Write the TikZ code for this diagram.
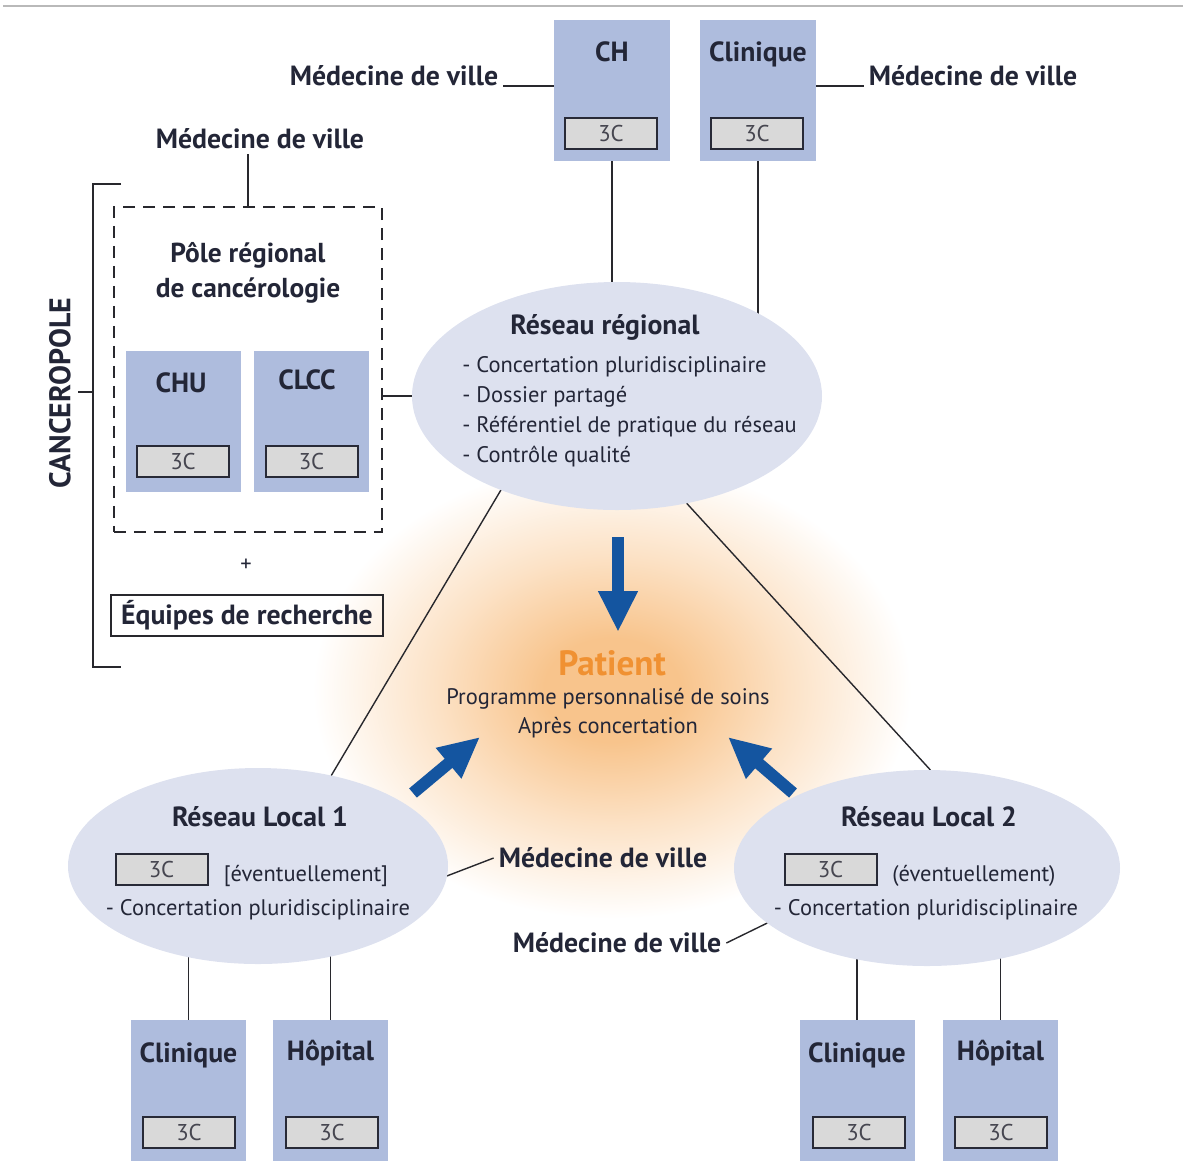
\documentclass[tikz,border=0pt]{standalone}
\usepackage{fontspec}
\setmainfont{PT Sans}
\usetikzlibrary{arrows.meta,shapes.geometric}
\pgfdeclarelayer{bg}
\pgfsetlayers{bg,main}
\newdimen\pxu
\pxu=0.02cm
\definecolor{boxfill}{RGB}{174,188,221}
\definecolor{ellfill}{RGB}{221,225,239}
\definecolor{ccfill}{RGB}{217,217,217}
\definecolor{ccdraw}{RGB}{40,42,55}
\definecolor{cctext}{RGB}{70,70,80}
\definecolor{ink}{RGB}{35,38,55}
\definecolor{linec}{RGB}{40,40,45}
\definecolor{arrowblue}{RGB}{20,85,160}
\definecolor{orangeT}{RGB}{240,145,50}
\definecolor{glowA}{RGB}{248,196,140}
\definecolor{glowB}{RGB}{252,226,198}
\pgfdeclareradialshading{glowshade}{\pgfpointorigin}{color(0bp)=(glowA); color(5bp)=(glowA); color(13bp)=(glowB); color(22bp)=(white); color(50bp)=(white)}
\tikzset{
 inst/.style={fill=boxfill, minimum width=116\pxu, minimum height=141\pxu, inner sep=0pt, outer sep=0pt},
 cc/.style={fill=ccfill, draw=ccdraw, line width=2\pxu, minimum width=92\pxu, minimum height=31\pxu, inner sep=0pt, font=\fontsize{13}{14}\selectfont, text=cctext},
 ttl/.style={font=\bfseries\fontsize{15.8}{18}\selectfont, text=ink, inner sep=0pt},
 lbl/.style={font=\bfseries\fontsize{15.8}{18}\selectfont, text=ink, inner sep=0pt, outer sep=3pt},
 body/.style={font=\fontsize{12.8}{17}\selectfont, text=ink, inner sep=0pt},
 net/.style={ellipse, fill=ellfill, inner sep=0pt, outer sep=0pt},
 conn/.style={draw=linec, line width=1.4\pxu},
 bigarrow/.style={draw=arrowblue, line width=12\pxu, -{Triangle[width=0.74cm,length=0.82cm]}},
}
\begin{document}
\begin{tikzpicture}[x=0.02cm,y=-0.02cm]
\useasboundingbox (0,0) rectangle (1183,1171);
\draw[gray!55, line width=2\pxu] (3,6) -- (1183,6);

% top boxes
\node[inst] (CH) at (612,90) {};
\node[ttl] (tCH) at (612,52) {CH};
\node[cc] (cCH) at (611,133) {3C};
\node[inst] (CLt) at (758,90) {};
\node[ttl] (tCLt) at (758,54) {Clinique};
\node[cc] (cCLt) at (757,133) {3C};
\node[lbl] (mvA) at (394,76) {Médecine de ville};
\node[lbl] (mvB) at (973,76) {Médecine de ville};

% regional network
\node[net, minimum width=410\pxu, minimum height=228\pxu] (RR) at (617,396) {};
\node[ttl] (tRR) at (605,327) {Réseau régional};
\node[body, align=left, anchor=west] (iRR) at (462,412) {- Concertation pluridisciplinaire\\- Dossier partagé\\- Référentiel de pratique du réseau\\- Contrôle qualité};

% pole
\node[lbl] (mvC) at (260,139) {Médecine de ville};
\node[draw=linec, dash pattern=on 0.24cm off 0.16cm, line width=1.5\pxu, minimum width=268\pxu, minimum height=325\pxu, inner sep=0pt] (pole) at (248,369.5) {};
\node[ttl, align=center, font=\bfseries\fontsize{15.6}{20}\selectfont] (tpole) at (248,273) {Pôle régional\\de cancérologie};
\node[inst, minimum width=115\pxu] (CHU) at (183.5,421) {};
\node[ttl] (tCHU) at (181,383) {CHU};
\node[cc] (cCHU) at (183,461.5) {3C};
\node[inst, minimum width=115\pxu] (CLCC) at (311.5,421) {};
\node[ttl] (tCLCC) at (307,380) {CLCC};
\node[cc] (cCLCC) at (311.5,461.5) {3C};
\node[body] (plus) at (246,565) {+};
\node[draw=linec, line width=2\pxu, minimum width=272\pxu, minimum height=41\pxu, inner sep=0pt, font=\bfseries\fontsize{15.8}{18}\selectfont, text=ink] (equ) at (247,615.5) {Équipes de recherche};
\node[lbl, rotate=90, font=\bfseries\fontsize{17}{18}\selectfont] (canc) at (60,393) {CANCEROPOLE};
\coordinate (brT) at (121,184);
\coordinate (brB) at (121,667);
\coordinate (brM) at (93,392);
\coordinate (brTick) at (78,392);
\draw[conn] (brT) -| (brB -| brM) -- (brB);
\draw[conn] (brTick) -- (brM);

% patient
\node[font=\bfseries\fontsize{20}{24}\selectfont, text=orangeT, inner sep=0pt] (pat) at (612,663) {Patient};
\node[body] (prog) at (608,699) {Programme personnalisé de soins};
\node[body] (apres) at (608,728) {Après concertation};

% local networks
\node[net, minimum width=380\pxu, minimum height=196\pxu] (L1) at (258,866) {};
\node[ttl] (tL1) at (260,817) {Réseau Local 1};
\node[cc] (cL1) at (161.5,869) {3C};
\node[body] (eL1) at (306,876) {[éventuellement]};
\node[body] (iL1) at (258,910) {- Concertation pluridisciplinaire};
\node[lbl] (mvD) at (603,858) {Médecine de ville};

\node[net, minimum width=386\pxu, minimum height=196\pxu] (L2) at (927,868) {};
\node[ttl] (tL2) at (929,817) {Réseau Local 2};
\node[cc] (cL2) at (830.5,869) {3C};
\node[body] (eL2) at (974,876) {(éventuellement)};
\node[body] (iL2) at (926,910) {- Concertation pluridisciplinaire};
\node[lbl] (mvE) at (617,943) {Médecine de ville};

% bottom boxes
\node[inst, minimum width=115\pxu] (Cb1) at (188.5,1090) {};
\node[ttl] (tCb1) at (188.5,1055) {Clinique};
\node[cc] (cCb1) at (189,1132.5) {3C};
\node[inst, minimum width=115\pxu] (Hb1) at (330.5,1090) {};
\node[ttl] (tHb1) at (330.5,1053) {Hôpital};
\node[cc] (cHb1) at (332,1132.5) {3C};
\node[inst, minimum width=115\pxu] (Cb2) at (857,1090) {};
\node[ttl] (tCb2) at (857,1055) {Clinique};
\node[cc] (cCb2) at (859,1132.5) {3C};
\node[inst, minimum width=115\pxu] (Hb2) at (1000.5,1090) {};
\node[ttl] (tHb2) at (1000.5,1053) {Hôpital};
\node[cc] (cHb2) at (1001,1132.5) {3C};

% arrows
\coordinate (aDs) at (618,537);
\coordinate (aDe) at (618,632);
\coordinate (aLs) at (413,793);
\coordinate (aLe) at (480,737);
\coordinate (aRs) at (793,793);
\coordinate (aRe) at (728,737);
\draw[bigarrow] (aDs) -- (aDe);
\draw[bigarrow] (aLs) -- (aLe);
\draw[bigarrow] (aRs) -- (aRe);

\begin{pgfonlayer}{bg}
\shade[shading=glowshade] (612,690) ellipse [x radius=340, y radius=260];
\draw[conn] (mvA.base east) -- (CH.west |- mvA.base);
\draw[conn] (CLt.east |- mvB.base) -- (mvB.base west);
\draw[conn] (CH.south) -- (CH.south |- RR.center);
\draw[conn] (CLt.south) -- (CLt.south |- RR.center);
\draw[conn] (mvC.south -| pole.north) -- (pole.north);
\draw[conn] (RR.west) -- (RR.west -| pole.east);
\draw[conn] (RR.219) -- (L1.51);
\draw[conn] (RR.-57) -- (L2.88);
\draw[conn] (L1.-3) -- (mvD.west);
\draw[conn] (L2.199) -- (mvE.east);
\draw[conn] (Cb1.north) -- (Cb1.north |- L1.center);
\draw[conn] (Hb1.north) -- (Hb1.north |- L1.center);
\draw[conn] (Cb2.north) -- (Cb2.north |- L2.center);
\draw[conn] (Hb2.north) -- (Hb2.north |- L2.center);
\end{pgfonlayer}
\end{tikzpicture}
\end{document}
